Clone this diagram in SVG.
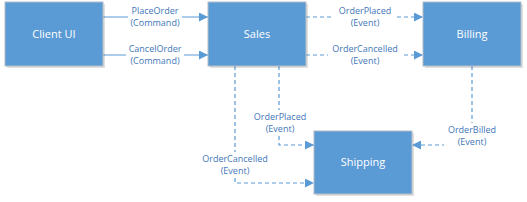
<svg xmlns="http://www.w3.org/2000/svg" width="527" height="202" viewBox="0 0 527 202">
<style>
.box{fill:#5B9BD5;stroke:#B4BCC6;stroke-width:1}
.shadow{fill:#000;opacity:0.12}
.bl{font-family:"Open Sans","Liberation Sans",sans-serif;font-size:11px;fill:#fff;text-anchor:middle}
.ln{fill:none;stroke:#5B9BD5;stroke-width:1.2}
.ds{stroke-dasharray:4 3}
.lb{font-family:"Open Sans","Liberation Sans",sans-serif;font-size:9px;fill:#3F77B8;text-anchor:middle}
.bg{fill:#fff}
</style>
<defs>
<marker id="ah" viewBox="0 0 10 10" refX="10" refY="5" markerWidth="9" markerHeight="9" markerUnits="userSpaceOnUse" orient="auto">
<path d="M0,0 L10,5 L0,10 z" fill="#5B9BD5"/>
</marker>
</defs>
<g id="connectors">
<path class="ln" d="M103,17 H208" marker-end="url(#ah)"/>
<path class="ln" d="M103,55 H208" marker-end="url(#ah)"/>
<path class="ln ds" d="M306,17 H423" marker-end="url(#ah)"/>
<path class="ln ds" d="M306,55 H423" marker-end="url(#ah)"/>
<path class="ln ds" d="M279,66 V145 H314" marker-end="url(#ah)"/>
<path class="ln ds" d="M235,66 V183 H314" marker-end="url(#ah)"/>
<path class="ln ds" d="M472,66 V145 H412" marker-end="url(#ah)"/>
<g id="labels">
<rect class="bg" x="128" y="6" width="54" height="22"/>
<text class="lb" x="155" y="13.5">PlaceOrder</text>
<text class="lb" x="155" y="25.5">(Command)</text>
<rect class="bg" x="126" y="44" width="58" height="22"/>
<text class="lb" x="155" y="51.5">CancelOrder</text>
<text class="lb" x="155" y="63.5">(Command)</text>
<rect class="bg" x="334" y="6" width="62" height="22"/>
<text class="lb" x="365" y="13.5">OrderPlaced</text>
<text class="lb" x="365" y="25.5">(Event)</text>
<rect class="bg" x="328" y="44" width="74" height="22"/>
<text class="lb" x="365" y="51.5">OrderCancelled</text>
<text class="lb" x="365" y="63.5">(Event)</text>
<rect class="bg" x="251" y="110" width="58" height="24"/>
<text class="lb" x="280" y="119.5">OrderPlaced</text>
<text class="lb" x="280" y="131.5">(Event)</text>
<rect class="bg" x="198" y="152" width="74" height="24"/>
<text class="lb" x="235" y="161.5">OrderCancelled</text>
<text class="lb" x="235" y="173.5">(Event)</text>
<rect class="bg" x="444" y="123" width="56" height="24"/>
<text class="lb" x="472" y="132.5">OrderBilled</text>
<text class="lb" x="472" y="144.5">(Event)</text>
</g>
</g>
<g id="client-ui">
<rect class="shadow" x="7" y="4" width="98" height="64"/>
<rect class="box" x="5" y="2" width="98" height="64"/>
<text class="bl" x="54" y="38">Client UI</text>
</g>
<g id="sales">
<rect class="shadow" x="210" y="4" width="98" height="64"/>
<rect class="box" x="208" y="2" width="98" height="64"/>
<text class="bl" x="257" y="38">Sales</text>
</g>
<g id="billing">
<rect class="shadow" x="425" y="4" width="98" height="64"/>
<rect class="box" x="423" y="2" width="98" height="64"/>
<text class="bl" x="472" y="38">Billing</text>
</g>
<g id="shipping">
<rect class="shadow" x="316" y="133" width="98" height="63"/>
<rect class="box" x="314" y="131" width="98" height="63"/>
<text class="bl" x="363" y="166">Shipping</text>
</g>
</svg>
